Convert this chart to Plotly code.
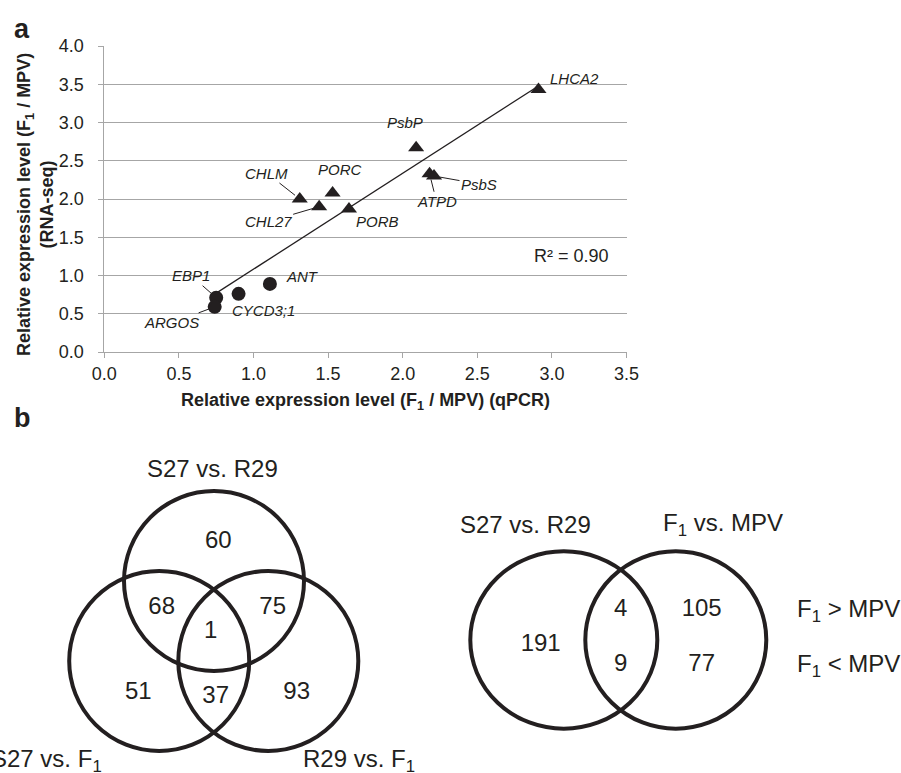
import numpy as np
import plotly.graph_objects as go

# ---------------- data: panel a ----------------
genes_tri = ["CHLM", "CHL27", "PORC", "PORB", "PsbP", "ATPD", "PsbS", "LHCA2"]
qpcr_tri = [1.31, 1.44, 1.53, 1.64, 2.09, 2.18, 2.21, 2.91]
rnaseq_tri = [2.00, 1.90, 2.08, 1.87, 2.67, 2.33, 2.30, 3.43]

genes_circ = ["EBP1", "ARGOS", "CYCD3;1", "ANT"]
qpcr_circ = [0.75, 0.74, 0.90, 1.11]
rnaseq_circ = [0.71, 0.59, 0.76, 0.89]

r2_text = "R² = 0.90"
x_ticks = [0.0, 0.5, 1.0, 1.5, 2.0, 2.5, 3.0, 3.5]
y_ticks = [0.0, 0.5, 1.0, 1.5, 2.0, 2.5, 3.0, 3.5, 4.0]

# ---------------- data: panel b ----------------
venn3_sets = ["S27 vs. R29", "S27 vs. F<sub>1</sub>", "R29 vs. F<sub>1</sub>"]
venn3_regions = ["S27vR29 only", "S27vR29 & S27vF1", "S27vR29 & R29vF1", "all three",
                 "S27vF1 only", "S27vF1 & R29vF1", "R29vF1 only"]
venn3_counts = [60, 68, 75, 1, 51, 37, 93]

venn2_sets = ["S27 vs. R29", "F<sub>1</sub> vs. MPV"]
venn2_regions = ["S27vR29 only", "both, F1>MPV", "both, F1<MPV", "F1vMPV only, F1>MPV", "F1vMPV only, F1<MPV"]
venn2_counts = [191, 4, 9, 105, 77]
venn2_rows = ["F<sub>1</sub> &gt; MPV", "F<sub>1</sub> &lt; MPV"]

# ---------------- style / layout ----------------
W, H = 901, 773
INK = "#231f20"
GRID = "#a6a6a6"
FONT = "Liberation Sans, Arial, sans-serif"

x_left, x_right = 104.3, 626.5
y_top, y_bot = 46.0, 352.0

# label offsets (pixels): leader-line labels (ax, ay) and plain labels (xshift, yshift)
leader = {"CHLM": (-33, -26), "CHL27": (-51, 15), "EBP1": (-25, -22),
          "ARGOS": (-43, 16), "PsbS": (45, 8), "ATPD": (7, 28)}
plain = {"LHCA2": (36, 11), "PsbP": (-11, 25), "PORC": (7, 23), "PORB": (29, -13),
         "ANT": (33, 7), "CYCD3;1": (25, -17)}

# venn geometry in pixel units of the bottom overlay axes
v3_circles = [(214.0, 581.0, 90.0, 90.0), (159.2, 661.0, 90.0, 90.0), (268.3, 661.0, 90.0, 90.0)]
v3_text_pos = [(218.3, 541.7), (161.7, 608.3), (272.7, 608.3), (210.7, 632.3),
               (138.3, 693.3), (215.7, 696.7), (296.7, 692.7)]
v3_set_pos = [(212.3, 468.3, "center"), (103.5, 760.5, "right"), (359.0, 760.5, "center")]

v2_circles = [(563.8, 640.0, 93.5, 88.7), (675.8, 640.0, 90.5, 88.7)]
v2_text_pos = [(540.7, 645.0), (620.7, 610.0), (620.7, 665.0), (701.7, 610.0), (701.7, 665.0)]
v2_set_pos = [(525.5, 524.0), (722.5, 524.0)]
v2_row_pos = [(795.0, 610.0), (795.0, 665.0)]

fig = go.Figure()

# trendline (least squares through all points)
all_x = np.array(qpcr_tri + qpcr_circ)
all_y = np.array(rnaseq_tri + rnaseq_circ)
slope, intercept = np.polyfit(all_x, all_y, 1)
lx = np.array([all_x.min(), all_x.max()])
fig.add_trace(go.Scatter(x=lx, y=slope * lx + intercept, mode="lines",
                         line=dict(color=INK, width=1.3), hoverinfo="skip"))

fig.add_trace(go.Scatter(x=qpcr_tri, y=rnaseq_tri, mode="markers", text=genes_tri,
                         marker=dict(symbol="triangle-up", size=14, color=INK)))
fig.add_trace(go.Scatter(x=qpcr_circ, y=rnaseq_circ, mode="markers", text=genes_circ,
                         marker=dict(symbol="circle", size=14, color=INK)))

annotations = []
lab_font = dict(family=FONT, size=15, color=INK)
for g, xv, yv in zip(genes_tri + genes_circ, qpcr_tri + qpcr_circ, rnaseq_tri + rnaseq_circ):
    it = "<i>" + g + "</i>"
    if g in leader:
        ax, ay = leader[g]
        annotations.append(dict(x=xv, y=yv, xref="x", yref="y", text=it, showarrow=True,
                                ax=ax, ay=ay, arrowhead=0, arrowwidth=1, arrowcolor=INK,
                                standoff=6, font=lab_font))
    else:
        xs, ys = plain[g]
        annotations.append(dict(x=xv, y=yv, xref="x", yref="y", text=it, showarrow=False,
                                xanchor="center", yanchor="middle",
                                xshift=xs, yshift=ys, font=lab_font))

annotations.append(dict(x=3.13, y=1.25, xref="x", yref="y", text=r2_text, showarrow=False,
                        xanchor="center", yanchor="middle",
                        font=dict(family=FONT, size=18, color=INK)))

# axis titles and panel labels (paper coords)
def px(xp):
    return xp / W

def py(yp):
    return 1 - yp / H

title_font = dict(family=FONT, size=18, color=INK)
annotations.append(dict(x=px(365), y=py(401), xref="paper", yref="paper",
                        xanchor="center", yanchor="middle",
                        text="<b>Relative expression level (F<sub>1</sub> / MPV) (qPCR)</b>",
                        showarrow=False, font=title_font))
annotations.append(dict(x=px(36), y=py(205), xref="paper", yref="paper", textangle=-90,
                        xanchor="center", yanchor="middle",
                        text="<b>Relative expression level (F<sub>1</sub> / MPV)<br>(RNA-seq)</b>",
                        showarrow=False, font=title_font))
annotations.append(dict(x=px(22), y=py(29), xref="paper", yref="paper", text="<b>a</b>",
                        xanchor="center", yanchor="middle",
                        showarrow=False, font=dict(family=FONT, size=27, color=INK)))
annotations.append(dict(x=px(22), y=py(418), xref="paper", yref="paper", text="<b>b</b>",
                        xanchor="center", yanchor="middle",
                        showarrow=False, font=dict(family=FONT, size=27, color=INK)))

# venn numbers as a text trace on the bottom overlay axes
venn_font = dict(family=FONT, size=24, color=INK)
fig.add_trace(go.Scatter(x=[p[0] for p in v3_text_pos] + [p[0] for p in v2_text_pos],
                         y=[p[1] for p in v3_text_pos] + [p[1] for p in v2_text_pos],
                         text=[str(c) for c in venn3_counts + venn2_counts],
                         mode="text", textfont=venn_font, xaxis="x2", yaxis="y2",
                         hoverinfo="skip"))

shapes = []
for (cx, cy, rx, ry) in v3_circles + v2_circles:
    shapes.append(dict(type="circle", xref="x2", yref="y2", x0=cx - rx, x1=cx + rx,
                       y0=cy - ry, y1=cy + ry, line=dict(color=INK, width=4)))

for name, (xp, yp, anc) in zip(venn3_sets, v3_set_pos):
    annotations.append(dict(x=xp, y=yp, xref="x2", yref="y2", text=name, showarrow=False,
                            xanchor=anc, yanchor="middle", font=venn_font))
for name, (xp, yp) in zip(venn2_sets, v2_set_pos):
    annotations.append(dict(x=xp, y=yp, xref="x2", yref="y2", text=name, showarrow=False,
                            xanchor="center", yanchor="middle", font=venn_font))
for name, (xp, yp) in zip(venn2_rows, v2_row_pos):
    annotations.append(dict(x=xp, y=yp, xref="x2", yref="y2", text=name, showarrow=False,
                            xanchor="left", yanchor="middle", font=venn_font))

y2_dom_top = 0.44
fig.update_layout(
    width=W, height=H, margin=dict(l=0, r=0, t=0, b=0, autoexpand=False),
    paper_bgcolor="white", plot_bgcolor="white", showlegend=False,
    font=dict(family=FONT, color=INK),
    xaxis=dict(domain=[x_left / W, x_right / W], range=[0, 3.5], tickvals=x_ticks,
               tickformat=".1f", showgrid=False, zeroline=False, showline=True,
               linecolor=GRID, linewidth=1, ticks="outside", ticklen=5, tickcolor=GRID,
               tickfont=dict(family=FONT, size=18, color=INK), ticklabelstandoff=0,
               fixedrange=True, automargin=False),
    yaxis=dict(domain=[1 - y_bot / H, 1 - y_top / H], range=[0, 4], tickvals=y_ticks,
               tickformat=".1f", showgrid=True, gridcolor=GRID, gridwidth=1, zeroline=False,
               showline=True, linecolor=GRID, linewidth=1, ticks="outside", ticklen=5,
               tickcolor=GRID, tickfont=dict(family=FONT, size=18, color=INK),
               ticklabelstandoff=11, fixedrange=True, automargin=False),
    xaxis2=dict(domain=[0, 1], range=[0, W], visible=False, anchor="y2", fixedrange=True),
    yaxis2=dict(domain=[0, y2_dom_top], range=[H, H - y2_dom_top * H], visible=False,
                anchor="x2", fixedrange=True),
    annotations=annotations, shapes=shapes,
)

fig.write_html("out.html", config={"displayModeBar": False},
               post_script="document.documentElement.style.margin='0';"
                           "document.body.style.margin='0';"
                           "document.body.style.overflow='hidden';")
